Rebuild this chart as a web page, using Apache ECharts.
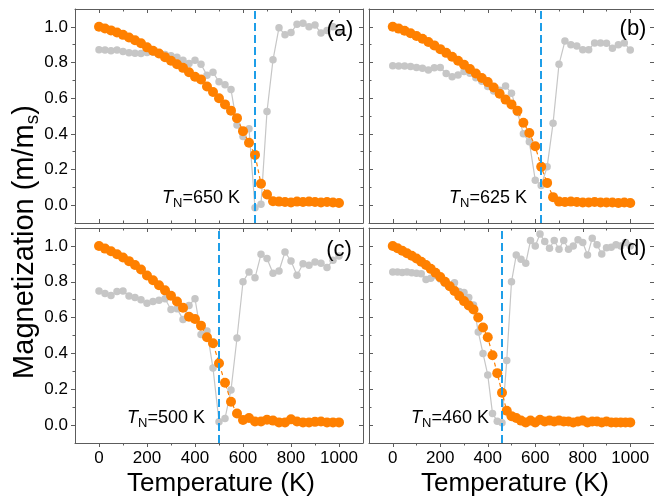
<!DOCTYPE html>
<html>
<head>
<meta charset="utf-8">
<script src="https://cdn.jsdelivr.net/npm/echarts@6/dist/echarts.min.js"></script>
<style>
  html, body { margin: 0; padding: 0; background: #fff; }
  #chart { width: 654px; height: 502px; }
</style>
</head>
<body>
<div id="chart"></div>
<script>
// Temperatures (K) of the sampled points
const tempsStep25 = [0,25,50,75,100,125,150,175,200,225,250,275,300,325,350,375,400,425,450,475,500,525,550,575,600,625,650,675,700,725,750,775,800,825,850,875,900,925,950,975,1000];
const tempsStep20 = [0,20,40,60,80,100,120,140,160,180,200,220,240,260,280,300,320,340,360,380,400,420,440,460,480,500,520,540,560,580,600,620,640,660,680,700,720,740,760,780,800,820,840,860,880,900,920,940,960,980,1000];

// Panel (a)
const simA = [1.000,0.991,0.980,0.968,0.955,0.940,0.925,0.908,0.885,0.866,0.850,0.830,0.810,0.790,0.770,0.745,0.720,0.705,0.665,0.635,0.600,0.565,0.530,0.488,0.415,0.350,0.282,0.120,0.060,0.022,0.020,0.018,0.015,0.020,0.018,0.020,0.018,0.015,0.018,0.015,0.012];
const expA = [0.872,0.870,0.866,0.870,0.862,0.855,0.852,0.850,0.856,0.858,0.852,0.845,0.838,0.830,0.812,0.795,0.812,0.790,0.728,0.745,0.692,0.675,0.648,0.450,0.385,0.428,-0.015,0.005,0.525,0.815,0.995,0.955,0.968,1.015,1.020,1.000,1.010,0.965,0.980,1.000,0.968];

// Panel (b)
const simB = [1.000,0.990,0.978,0.964,0.949,0.933,0.915,0.896,0.875,0.854,0.832,0.810,0.788,0.763,0.738,0.713,0.690,0.660,0.625,0.592,0.565,0.530,0.462,0.405,0.330,0.215,0.125,0.045,0.020,0.018,0.020,0.018,0.015,0.015,0.018,0.015,0.015,0.015,0.012,0.015,0.012];
const expB = [0.782,0.780,0.780,0.778,0.772,0.768,0.758,0.770,0.772,0.738,0.720,0.730,0.750,0.740,0.715,0.695,0.665,0.640,0.645,0.668,0.628,0.520,0.400,0.355,0.140,0.110,0.215,0.460,0.790,0.920,0.900,0.892,0.872,0.872,0.910,0.910,0.908,0.880,0.900,0.910,0.870];

// Panel (c)
const simC = [1.000,0.985,0.970,0.953,0.935,0.915,0.893,0.868,0.835,0.808,0.780,0.752,0.722,0.690,0.655,0.605,0.592,0.555,0.490,0.457,0.345,0.236,0.130,0.065,0.028,0.040,0.020,0.020,0.030,0.025,0.015,0.015,0.032,0.020,0.015,0.015,0.018,0.020,0.015,0.015,0.015];
const expC = [0.748,0.735,0.723,0.745,0.748,0.720,0.712,0.700,0.680,0.690,0.697,0.705,0.645,0.650,0.590,0.668,0.705,0.505,0.525,0.318,0.019,0.037,0.196,0.486,0.800,0.855,0.822,0.953,0.930,0.847,0.860,0.966,0.916,0.836,0.900,0.892,0.910,0.903,0.880,0.920,0.944];

// Panel (d)
const simD = [1.000,0.987,0.973,0.959,0.945,0.930,0.912,0.893,0.872,0.850,0.826,0.800,0.775,0.748,0.720,0.692,0.668,0.645,0.600,0.545,0.490,0.390,0.290,0.180,0.080,0.050,0.040,0.025,0.015,0.025,0.015,0.030,0.020,0.025,0.020,0.025,0.020,0.020,0.015,0.020,0.025,0.015,0.020,0.020,0.015,0.020,0.015,0.015,0.015,0.015,0.015];
const expD = [0.855,0.855,0.852,0.855,0.850,0.848,0.845,0.812,0.820,0.835,0.815,0.790,0.775,0.795,0.745,0.740,0.712,0.670,0.520,0.400,0.280,0.065,0.022,0.013,0.360,0.800,0.949,0.925,0.903,1.030,1.000,1.067,1.024,0.987,1.030,0.981,1.030,0.981,1.000,1.034,1.019,0.949,1.043,1.006,0.955,0.990,0.993,1.006,1.000,1.019,1.000];

// Néel temperatures and panel tags
const neelTemps = [650, 625, 500, 460];
const panelTags = ['(a)', '(b)', '(c)', '(d)'];

// Tick values
const xMajor = [0, 200, 400, 600, 800, 1000];
const xMinor = [100, 300, 500, 700, 900];
const yMajor = [0, 0.2, 0.4, 0.6, 0.8, 1.0];
const yMinor = [0.1, 0.3, 0.5, 0.7, 0.9];

const FONT = "'Liberation Sans', Arial, Helvetica, sans-serif";
const AXIS_COLOR = '#5c5c5c';
const SIM_COLOR = '#ff8000';
const EXP_COLOR = '#c6c6c6';
const TN_COLOR = '#1e9ee8';

const panels = [
  { temps: tempsStep25, sim: simA, exp: expA, rect: { left: 75,  top: 9,   width: 288, height: 214 }, bottomRow: false, leftCol: true,  tag: [340, 30],  tn: [162, 198] },
  { temps: tempsStep25, sim: simB, exp: expB, rect: { left: 369, top: 9,   width: 288, height: 214 }, bottomRow: false, leftCol: false, tag: [633, 29],  tn: [449, 198] },
  { temps: tempsStep25, sim: simC, exp: expC, rect: { left: 75,  top: 228, width: 288, height: 215 }, bottomRow: true,  leftCol: true,  tag: [339, 250], tn: [127, 418] },
  { temps: tempsStep20, sim: simD, exp: expD, rect: { left: 369, top: 228, width: 288, height: 215 }, bottomRow: true,  leftCol: false, tag: [633, 249], tn: [411, 418] }
];

const grid = [], xAxis = [], yAxis = [], series = [], graphic = [];

function xAx(gridIndex, position, ticks, len, inside, line, labels) {
  xAxis.push({
    gridIndex, type: 'value', position, min: -100, max: 1100,
    axisLine: { show: line, onZero: false, lineStyle: { color: AXIS_COLOR, width: 1 } },
    axisTick: { show: true, customValues: ticks, length: len, inside, lineStyle: { color: AXIS_COLOR, width: 1 } },
    axisLabel: labels
      ? { show: true, customValues: xMajor, fontSize: 17, color: '#000', margin: 7, fontFamily: FONT,
          formatter: v => String(v) }
      : { show: false },
    splitLine: { show: false }
  });
  return xAxis.length - 1;
}
function yAx(gridIndex, position, ticks, len, inside, line, labels) {
  yAxis.push({
    gridIndex, type: 'value', position, min: -0.1, max: 1.1,
    axisLine: { show: line, onZero: false, lineStyle: { color: AXIS_COLOR, width: 1 } },
    axisTick: { show: true, customValues: ticks, length: len, inside, lineStyle: { color: AXIS_COLOR, width: 1 } },
    axisLabel: labels
      ? { show: true, customValues: yMajor, fontSize: 17, color: '#000', margin: 7, fontFamily: FONT,
          formatter: v => v.toFixed(1) }
      : { show: false },
    splitLine: { show: false }
  });
  return yAxis.length - 1;
}

panels.forEach(p => {
  grid.push(Object.assign({ containLabel: false }, p.rect));
});
// overlay grids carry the minor ticks
panels.forEach(p => {
  grid.push(Object.assign({ containLabel: false }, p.rect));
});

panels.forEach((p, i) => {
  const g = i, go = i + 4;
  const xb = xAx(g, 'bottom', xMajor, 4, !p.bottomRow, true, p.bottomRow);
  xAx(g, 'top', xMajor, 4, true, true, false);
  const yl = yAx(g, 'left', yMajor, 4, !p.leftCol, true, p.leftCol);
  yAx(g, 'right', yMajor, 4, true, true, false);
  xAx(go, 'bottom', xMinor, 2.5, !p.bottomRow, false, false);
  xAx(go, 'top', xMinor, 2.5, true, false, false);
  yAx(go, 'left', yMinor, 2.5, !p.leftCol, false, false);
  yAx(go, 'right', yMinor, 2.5, true, false, false);

  series.push({
    type: 'line', xAxisIndex: xb, yAxisIndex: yl, z: 2,
    data: p.temps.map((t, k) => [t, p.exp[k]]),
    symbol: 'circle', symbolSize: 7.5, showAllSymbol: true,
    itemStyle: { color: EXP_COLOR },
    lineStyle: { color: EXP_COLOR, width: 1.2 },
    markLine: {
      silent: true, symbol: ['none', 'none'], animation: false,
      label: { show: false },
      lineStyle: { color: TN_COLOR, width: 2, type: [8, 4] },
      data: [{ xAxis: neelTemps[i] }]
    }
  });
  series.push({
    type: 'line', xAxisIndex: xb, yAxisIndex: yl, z: 3,
    data: p.temps.map((t, k) => [t, p.sim[k]]),
    symbol: 'circle', symbolSize: 10, showAllSymbol: true,
    itemStyle: { color: SIM_COLOR },
    lineStyle: { color: SIM_COLOR, width: 1.2, type: [4, 3] }
  });

  graphic.push({
    type: 'text', x: p.tag[0], y: p.tag[1], z: 100,
    style: { text: panelTags[i], fontSize: 22, fontFamily: FONT, fill: '#000', align: 'center', verticalAlign: 'middle' }
  });
  graphic.push({
    type: 'text', x: p.tn[0], y: p.tn[1], z: 100,
    style: {
      text: '{i|T}{s|N}{n|=' + neelTemps[i] + ' K}',
      fill: '#000', align: 'left', verticalAlign: 'middle', fontFamily: FONT, fontSize: 18,
      rich: {
        i: { fontSize: 18, fontStyle: 'italic', fontFamily: FONT, fill: '#000', lineHeight: 24, verticalAlign: 'middle' },
        s: { fontSize: 13, fontFamily: FONT, fill: '#000', verticalAlign: 'bottom' },
        n: { fontSize: 18, fontFamily: FONT, fill: '#000', lineHeight: 24, verticalAlign: 'middle' }
      }
    }
  });
});

// Axis titles
['Temperature (K)', 'Temperature (K)'].forEach((t, k) => {
  graphic.push({
    type: 'text', x: k === 0 ? 221 : 515, y: 484, z: 100,
    style: { text: t, fontSize: 26, fontFamily: FONT, fill: '#000', align: 'center', verticalAlign: 'middle' }
  });
});
graphic.push({
  type: 'text', x: 25, y: 242, rotation: Math.PI / 2, z: 100,
  style: {
    text: '{n|Magnetization (m/m}{s|s}{n|)}',
    fill: '#000', align: 'center', verticalAlign: 'middle', fontFamily: FONT, fontSize: 29,
    rich: {
      n: { fontSize: 29, fontFamily: FONT, fill: '#000', lineHeight: 34, verticalAlign: 'middle' },
      s: { fontSize: 19, fontFamily: FONT, fill: '#000', verticalAlign: 'bottom' }
    }
  }
});

const chart = echarts.init(document.getElementById('chart'), null, { renderer: 'canvas' });
chart.setOption({
  animation: false,
  backgroundColor: '#fff',
  grid, xAxis, yAxis, series, graphic
});
</script>
</body>
</html>
